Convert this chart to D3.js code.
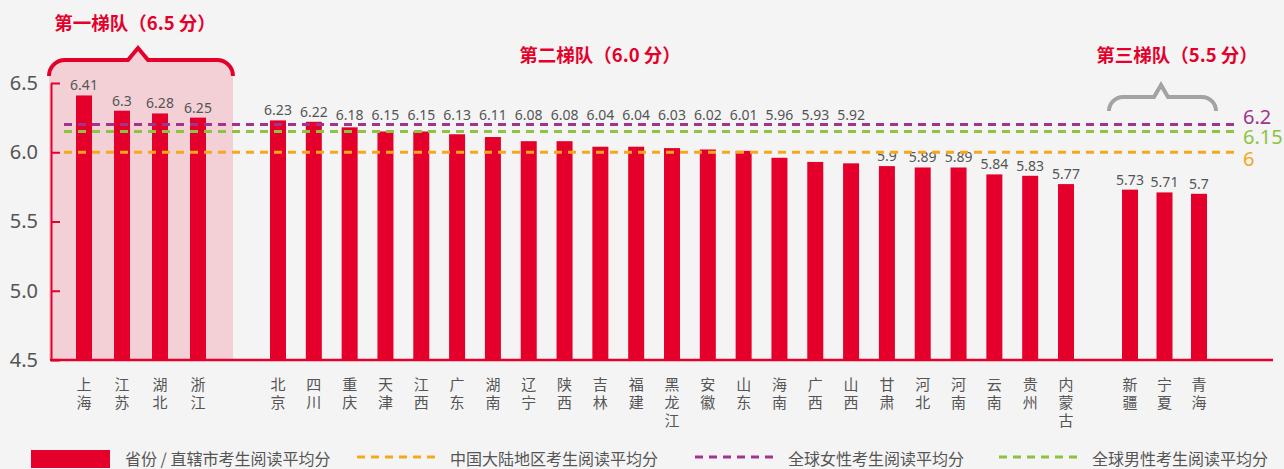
<!DOCTYPE html>
<html>
<head>
<meta charset="utf-8">
<script src="https://cdn.jsdelivr.net/npm/d3@7"></script>
<style>
  body { margin: 0; background: #f4f4f4; }
  svg { display: block; font-family: "Noto Sans CJK SC", "Noto Sans", sans-serif; }
</style>
</head>
<body>
<svg id="chart" width="1284" height="469"></svg>
<script>
// tier 1 / 2 / 3 provinces and their average reading scores
const tier1Names = ["上海", "江苏", "湖北", "浙江"];
const tier1Values = [6.41, 6.3, 6.28, 6.25];
const tier2Names = ["北京", "四川", "重庆", "天津", "江西", "广东", "湖南", "辽宁", "陕西", "吉林", "福建",
  "黑龙江", "安徽", "山东", "海南", "广西", "山西", "甘肃", "河北", "河南", "云南", "贵州", "内蒙古"];
const tier2Values = [6.23, 6.22, 6.18, 6.15, 6.15, 6.13, 6.11, 6.08, 6.08, 6.04, 6.04,
  6.03, 6.02, 6.01, 5.96, 5.93, 5.92, 5.9, 5.89, 5.89, 5.84, 5.83, 5.77];
const tier3Names = ["新疆", "宁夏", "青海"];
const tier3Values = [5.73, 5.71, 5.7];

const tierTitles = ["第一梯队（6.5 分）", "第二梯队（6.0 分）", "第三梯队（5.5 分）"];

// reference lines
const refNames = ["中国大陆地区考生阅读平均分", "全球女性考生阅读平均分", "全球男性考生阅读平均分"];
const refValues = [6.0, 6.2, 6.15];
const refLabels = ["6", "6.2", "6.15"];
const refColors = ["#f5a81c", "#a2338f", "#8cc43f"];

const yTicks = [4.5, 5.0, 5.5, 6.0, 6.5];

const red = "#e4002b";
const textGray = "#555";
const svg = d3.select("#chart");

const y = d3.scaleLinear().domain([4.5, 6.5]).range([360, 83]);

const groups = [
  { names: tier1Names, values: tier1Values, x: d3.scalePoint().domain(tier1Names).range([84, 198]) },
  { names: tier2Names, values: tier2Values, x: d3.scalePoint().domain(tier2Names).range([278, 1066]) },
  { names: tier3Names, values: tier3Values, x: d3.scalePoint().domain(tier3Names).range([1130, 1199]) }
];

// pink highlight + red brace for tier 1
svg.append("path")
  .attr("d", "M49,360 L49,76 A16,16 0 0 1 65,60 L128,60 L138,48 L148,60 L217,60 A16,16 0 0 1 233,76 L233,360 Z")
  .attr("fill", "#f2d0d6");
svg.append("path")
  .attr("d", "M49,76 A16,16 0 0 1 65,60 L128,60 L138,48 L148,60 L217,60 A16,16 0 0 1 233,76")
  .attr("fill", "none").attr("stroke", red).attr("stroke-width", 4);

// gray brace for tier 3
svg.append("path")
  .attr("d", "M1109,111 A14,14 0 0 1 1123,97 L1154,97 L1161,85 L1168,97 L1202,97 A14,14 0 0 1 1216,111")
  .attr("fill", "none").attr("stroke", "#a3a3a3").attr("stroke-width", 4);

// tier titles
const titlePos = [[135, 30], [600, 62], [1177, 62]];
svg.selectAll(".tier-title")
  .data(tierTitles)
  .enter().append("text")
  .attr("class", "tier-title")
  .attr("x", (d, i) => titlePos[i][0])
  .attr("y", (d, i) => titlePos[i][1])
  .attr("text-anchor", "middle")
  .attr("fill", red)
  .style("font-size", "18.5px")
  .style("font-weight", "bold")
  .text(d => d);

// y axis
const yAxis = svg.append("g")
  .attr("transform", "translate(51,0)")
  .call(d3.axisLeft(y).tickValues(yTicks).tickFormat(d3.format(".1f")).tickSizeInner(-9).tickSizeOuter(0).tickPadding(13));
yAxis.select(".domain").attr("stroke", red).attr("stroke-width", 2);
yAxis.selectAll(".tick line").attr("stroke", red).attr("stroke-width", 2);
yAxis.selectAll(".tick text")
  .attr("fill", textGray)
  .style("font-size", "20px")
  .style("font-family", "'Noto Sans', sans-serif");

// bottom baseline
svg.append("line")
  .attr("x1", 50).attr("x2", 1273)
  .attr("y1", y(4.5)).attr("y2", y(4.5))
  .attr("stroke", red).attr("stroke-width", 2.5);

// bars, value labels and category labels
const femaleY = y(6.2);
groups.forEach((g, gi) => {
  const rows = g.names.map((n, i) => ({ name: n, value: g.values[i] }));

  svg.selectAll(".bar-" + gi)
    .data(rows)
    .enter().append("rect")
    .attr("x", d => g.x(d.name) - 8)
    .attr("y", d => y(d.value))
    .attr("width", 16)
    .attr("height", d => y(4.5) - y(d.value))
    .attr("fill", red);

  svg.selectAll(".val-" + gi)
    .data(rows)
    .enter().append("text")
    .attr("x", d => g.x(d.name))
    .attr("y", d => {
      // tier-2 labels that would sit in the dashed lines are lifted above them
      if (gi === 1 && d.value >= 5.92) return Math.min(y(d.value), femaleY) - 5;
      return y(d.value) - 5;
    })
    .attr("text-anchor", "middle")
    .attr("fill", textGray)
    .style("font-size", "14px")
    .style("font-family", "'Noto Sans', sans-serif")
    .text(d => d.value);

  const cats = svg.selectAll(".cat-" + gi)
    .data(rows)
    .enter().append("text")
    .attr("x", d => g.x(d.name))
    .attr("y", 390)
    .attr("text-anchor", "middle")
    .attr("fill", textGray)
    .style("font-size", "15px");
  cats.selectAll("tspan")
    .data(d => d.name.split(""))
    .enter().append("tspan")
    .attr("x", function () { return d3.select(this.parentNode).attr("x"); })
    .attr("dy", (d, i) => i === 0 ? 0 : 18)
    .text(d => d);
});

// dashed reference lines with value labels at the right
const refLabelShift = [7, -8, 6];
refValues.forEach((v, i) => {
  svg.append("line")
    .attr("x1", 64).attr("x2", 1237)
    .attr("y1", y(v)).attr("y2", y(v))
    .attr("stroke", refColors[i])
    .attr("stroke-width", 3)
    .attr("stroke-dasharray", "8,6");
  svg.append("text")
    .attr("x", 1243)
    .attr("y", y(v) + refLabelShift[i])
    .attr("dy", "0.35em")
    .attr("fill", refColors[i])
    .style("font-size", "20px")
    .style("font-family", "'Noto Sans', sans-serif")
    .text(refLabels[i]);
});

// legend
const legendY = 459;
svg.append("rect")
  .attr("x", 31).attr("y", legendY - 9)
  .attr("width", 79).attr("height", 18)
  .attr("fill", red);
svg.append("text")
  .attr("x", 125).attr("y", legendY).attr("dy", "0.35em")
  .attr("fill", textGray).style("font-size", "16px")
  .text("省份 / 直辖市考生阅读平均分");

const legendX = [357, 695, 999];
refNames.forEach((n, i) => {
  svg.append("line")
    .attr("x1", legendX[i]).attr("x2", legendX[i] + 81)
    .attr("y1", legendY - 2).attr("y2", legendY - 2)
    .attr("stroke", refColors[i])
    .attr("stroke-width", 3)
    .attr("stroke-dasharray", "8,6");
  svg.append("text")
    .attr("x", legendX[i] + 93).attr("y", legendY).attr("dy", "0.35em")
    .attr("fill", textGray).style("font-size", "16px")
    .text(n);
});
</script>
</body>
</html>
